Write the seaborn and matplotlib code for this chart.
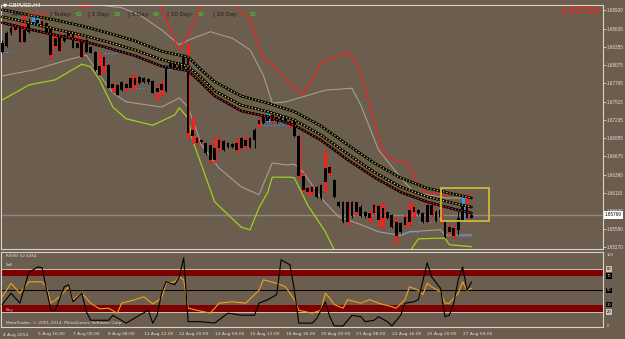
import matplotlib
matplotlib.use("Agg")
import matplotlib.pyplot as plt
import matplotlib.transforms as mtransforms
from matplotlib.patches import Rectangle
import numpy as np
import seaborn as sns

sns.set_style("dark")
plt.rcParams["font.family"] = ["DejaVu Sans"]

W, H = 625, 339
BG = "#6c5e4e"
FRAME = "#d9d2c8"
TXT = "#e4e0da"
SCALE_FONT = "Liberation Sans"

# ---------------------------------------------------------------
# GBPUSD H4 candles, bar 0 = first visible bar (4 Aug 2014)
# ---------------------------------------------------------------
opens = [1.6828, 1.6837, 1.6857, 1.6862, 1.6865, 1.6843, 1.6859, 1.6874, 1.6873, 1.6876,
         1.6873, 1.6863, 1.6837, 1.6854, 1.6845, 1.6853, 1.6857, 1.6834, 1.6846, 1.6828,
         1.6836, 1.6828, 1.6806, 1.6806, 1.6808, 1.6772, 1.6777, 1.6769, 1.6779, 1.6772,
         1.6788, 1.6780, 1.6788, 1.6782, 1.6783, 1.6766, 1.6769, 1.6768, 1.6803, 1.6811,
         1.6803, 1.6803, 1.6822, 1.6708, 1.6695, 1.6692, 1.6688, 1.6685, 1.6662, 1.6680,
         1.6691, 1.6682, 1.6686, 1.6677, 1.6680, 1.6692, 1.6682, 1.6692, 1.6717, 1.6719,
         1.6722, 1.6731, 1.6722, 1.6728, 1.6722, 1.6722, 1.6722, 1.6698, 1.6637, 1.6612,
         1.6620, 1.6620, 1.6603, 1.6628, 1.6651, 1.6631, 1.6597, 1.6597, 1.6566, 1.6597,
         1.6582, 1.6589, 1.6575, 1.6580, 1.6580, 1.6591, 1.6572, 1.6582, 1.6577, 1.6566,
         1.6551, 1.6562, 1.6566, 1.6582, 1.6585, 1.6580, 1.6566, 1.6592, 1.6582, 1.6574,
         1.6568, 1.6551, 1.6557, 1.6554, 1.6569, 1.6589, 1.6572]
highs = [1.6846, 1.6860, 1.6868, 1.6871, 1.6873, 1.6885, 1.6880, 1.6885, 1.6885, 1.6879,
         1.6874, 1.6865, 1.6854, 1.6857, 1.6856, 1.6862, 1.6859, 1.6857, 1.6849, 1.6849,
         1.6837, 1.6829, 1.6828, 1.6820, 1.6809, 1.6780, 1.6779, 1.6783, 1.6780, 1.6792,
         1.6792, 1.6791, 1.6789, 1.6788, 1.6785, 1.6777, 1.6783, 1.6806, 1.6816, 1.6812,
         1.6812, 1.6825, 1.6842, 1.6728, 1.6697, 1.6694, 1.6689, 1.6688, 1.6695, 1.6695,
         1.6692, 1.6689, 1.6688, 1.6695, 1.6697, 1.6697, 1.6697, 1.6711, 1.6726, 1.6729,
         1.6734, 1.6734, 1.6729, 1.6732, 1.6731, 1.6723, 1.6723, 1.6700, 1.6642, 1.6620,
         1.6622, 1.6622, 1.6625, 1.6675, 1.6652, 1.6632, 1.6598, 1.6598, 1.6598, 1.6598,
         1.6598, 1.6592, 1.6583, 1.6583, 1.6594, 1.6594, 1.6595, 1.6583, 1.6578, 1.6572,
         1.6566, 1.6577, 1.6597, 1.6592, 1.6586, 1.6582, 1.6594, 1.6594, 1.6585, 1.6592,
         1.6569, 1.6562, 1.6560, 1.6585, 1.6605, 1.6603, 1.6582]
lows = [1.6826, 1.6836, 1.6854, 1.6860, 1.6843, 1.6843, 1.6857, 1.6869, 1.6871, 1.6866,
        1.6859, 1.6819, 1.6834, 1.6829, 1.6843, 1.6849, 1.6834, 1.6834, 1.6820, 1.6826,
        1.6826, 1.6799, 1.6792, 1.6797, 1.6772, 1.6766, 1.6762, 1.6768, 1.6769, 1.6769,
        1.6772, 1.6779, 1.6780, 1.6779, 1.6765, 1.6754, 1.6762, 1.6766, 1.6800, 1.6802,
        1.6802, 1.6802, 1.6695, 1.6688, 1.6685, 1.6688, 1.6669, 1.6658, 1.6658, 1.6677,
        1.6675, 1.6680, 1.6680, 1.6674, 1.6678, 1.6680, 1.6680, 1.6680, 1.6711, 1.6717,
        1.6720, 1.6719, 1.6719, 1.6719, 1.6719, 1.6712, 1.6697, 1.6634, 1.6612, 1.6608,
        1.6609, 1.6603, 1.6600, 1.6612, 1.6638, 1.6603, 1.6589, 1.6565, 1.6562, 1.6572,
        1.6577, 1.6574, 1.6572, 1.6566, 1.6577, 1.6558, 1.6558, 1.6571, 1.6557, 1.6534,
        1.6549, 1.6558, 1.6562, 1.6574, 1.6577, 1.6565, 1.6565, 1.6575, 1.6566, 1.6565,
        1.6541, 1.6548, 1.6541, 1.6546, 1.6569, 1.6571, 1.6572]
closes = [1.6842, 1.6857, 1.6865, 1.6868, 1.6843, 1.6862, 1.6874, 1.6869, 1.6877, 1.6869,
          1.6859, 1.6823, 1.6849, 1.6829, 1.6854, 1.6860, 1.6834, 1.6842, 1.6820, 1.6846,
          1.6826, 1.6800, 1.6792, 1.6820, 1.6772, 1.6779, 1.6762, 1.6782, 1.6772, 1.6788,
          1.6777, 1.6789, 1.6782, 1.6786, 1.6765, 1.6772, 1.6779, 1.6805, 1.6811, 1.6803,
          1.6809, 1.6823, 1.6703, 1.6698, 1.6688, 1.6689, 1.6672, 1.6662, 1.6680, 1.6692,
          1.6677, 1.6688, 1.6682, 1.6688, 1.6695, 1.6683, 1.6695, 1.6708, 1.6723, 1.6728,
          1.6731, 1.6722, 1.6728, 1.6722, 1.6729, 1.6715, 1.6698, 1.6637, 1.6615, 1.6618,
          1.6612, 1.6605, 1.6623, 1.6649, 1.6642, 1.6605, 1.6591, 1.6566, 1.6597, 1.6575,
          1.6597, 1.6575, 1.6582, 1.6572, 1.6592, 1.6569, 1.6588, 1.6572, 1.6558, 1.6545,
          1.6565, 1.6574, 1.6585, 1.6589, 1.6580, 1.6566, 1.6592, 1.6577, 1.6568, 1.6585,
          1.6543, 1.6558, 1.6545, 1.6572, 1.6592, 1.6572, 1.6577]
red_marked = [3, 4, 5, 9, 11, 12, 13, 15, 17, 18, 22, 23, 25, 28, 29, 30, 35, 36, 42, 43,
              44, 47, 48, 49, 53, 54, 55, 58, 61, 65, 67, 68, 69, 70, 73, 74, 78, 80, 83,
              84, 85, 86, 89, 91, 92, 93, 96, 97, 99, 101, 102, 105]
blue_marked = [7, 8, 38, 60, 63, 104]
price_now = 1.65769

# three smoothed averages (upper / middle / lower), read every few bars
ma_bar = [0, 6, 12, 18, 24, 30, 36, 42, 45, 48, 54, 60, 66, 72, 78, 84, 90, 96, 102, 106]
ma_top = [1.6893, 1.6885, 1.6877, 1.6868, 1.6857, 1.6845, 1.6829, 1.6820, 1.6800, 1.6782,
          1.6760, 1.6749, 1.6736, 1.6714, 1.6685, 1.6657, 1.6634, 1.6618, 1.6609, 1.6603]
ma_mid = [1.6882, 1.6873, 1.6863, 1.6854, 1.6843, 1.6831, 1.6816, 1.6806, 1.6788, 1.6768,
          1.6746, 1.6736, 1.6723, 1.6700, 1.6671, 1.6643, 1.6620, 1.6605, 1.6595, 1.6589]
ma_bot = [1.6873, 1.6863, 1.6854, 1.6845, 1.6834, 1.6822, 1.6806, 1.6799, 1.6780, 1.6760,
          1.6737, 1.6728, 1.6715, 1.6692, 1.6662, 1.6635, 1.6612, 1.6597, 1.6586, 1.6580]

# outer bands
red_env_bar = [0, 6, 12, 15, 17, 19, 21, 23, 27, 31, 34, 36, 38, 40, 42, 44, 45, 46, 49, 52,
               56, 59, 61, 66, 68, 72, 75, 78, 80, 81, 84, 86, 88, 91, 92, 94, 96, 100, 106]
red_env = [1.6970, 1.6947, 1.6920, 1.6903, 1.6899, 1.6897, 1.6900, 1.6911, 1.6931, 1.6936,
           1.6916, 1.6896, 1.6862, 1.6831, 1.6854, 1.6885, 1.6900, 1.6920, 1.6926, 1.6905,
           1.6877, 1.6816, 1.6808, 1.6772, 1.6762, 1.6811, 1.6819, 1.6828, 1.6811, 1.6792,
           1.6723, 1.6674, 1.6662, 1.6659, 1.6652, 1.6623, 1.6611, 1.6608, 1.6608]
grey_up_bar = [8, 14, 18, 22, 27, 31, 36, 40, 42, 47, 52, 56, 59, 61, 64, 67, 73, 79, 81,
               85, 90, 93, 100, 106]
grey_up = [1.6965, 1.6939, 1.6916, 1.6900, 1.6896, 1.6885, 1.6862, 1.6839, 1.6846, 1.6859,
           1.6849, 1.6831, 1.6792, 1.6749, 1.6751, 1.6757, 1.6769, 1.6772, 1.6746, 1.6677,
           1.6634, 1.6612, 1.6603, 1.6603]
grey_lo_bar = [0, 7, 15, 19, 22, 25, 28, 36, 40, 42, 45, 49, 54, 58, 61, 64, 66, 68, 72, 76,
               81, 85, 90, 92, 99, 100, 106]
grey_lo = [1.6791, 1.6800, 1.6816, 1.6823, 1.6792, 1.6765, 1.6751, 1.6743, 1.6757, 1.6743,
           1.6685, 1.6649, 1.6620, 1.6608, 1.6657, 1.6654, 1.6655, 1.6643, 1.6603, 1.6574,
           1.6562, 1.6551, 1.6545, 1.6551, 1.6554, 1.6546, 1.6546]
green_bar = [0, 4, 6, 12, 15, 18, 20, 22, 25, 28, 34, 39, 40, 42, 43, 45, 48, 54, 56, 58,
             60, 61, 65, 66, 69, 73, 75, 80, 86, 92, 94, 98, 100, 101, 106]
green = [1.6754, 1.6769, 1.6777, 1.6785, 1.6797, 1.6809, 1.6805, 1.6785, 1.6743, 1.6725,
         1.6715, 1.6731, 1.6742, 1.6726, 1.6692, 1.6654, 1.6597, 1.6558, 1.6554, 1.6588,
         1.6612, 1.6635, 1.6635, 1.6634, 1.6592, 1.6551, 1.6523, 1.6505, 1.6505, 1.6520,
         1.6540, 1.6541, 1.6541, 1.6531, 1.6528]

# blue fractal levels
frac_price = [1.6828, 1.6826, 1.6772, 1.6803, 1.6715, 1.6551, 1.6566, 1.6545]
frac_from = [0, 22, 29, 41, 58, 90, 94, 103]
frac_to = [2, 26, 32, 44, 64, 94, 97, 106]

# yellow box drawn on the chart
box_bars = (99, 110)
box_prices = (1.6568, 1.6618)

price_ticks = [1.68920, 1.68635, 1.68355, 1.68075, 1.67795, 1.67515, 1.67235,
               1.66955, 1.66675, 1.66390, 1.66110, 1.65830, 1.65550, 1.65270]

# oscillator window
ora_bar = [0, 2, 4, 6, 9, 10, 11, 13, 15, 16, 18, 20, 22, 24, 26, 27, 30, 32, 34, 36, 37, 39,
           40, 41, 42, 44, 47, 49, 52, 55, 58, 59, 62, 64, 66, 67, 70, 72, 73, 74, 75, 77,
           78, 81, 83, 85, 88, 89, 91, 92, 94, 95, 96, 97, 99, 100, 101, 103, 104, 105, 106]
ora_val = [41, 60, 46, 62, 62, 55, 32, 41, 55, 37, 46, 32, 24, 25, 18, 32, 37, 41, 31, 39,
           60, 62, 69, 65, 25, 22, 18, 32, 34, 32, 50, 65, 60, 55, 37, 22, 18, 22, 46, 39,
           30, 25, 37, 32, 37, 32, 27, 25, 37, 55, 50, 44, 60, 55, 48, 32, 32, 46, 62, 50, 53]
blk_bar = [0, 2, 4, 6, 8, 9, 11, 12, 14, 15, 16, 18, 19, 20, 24, 25, 28, 31, 33, 34, 35, 36,
           37, 39, 40, 41, 42, 45, 48, 51, 54, 57, 58, 60, 62, 63, 65, 66, 67, 70, 71, 73,
           74, 75, 77, 79, 81, 82, 84, 85, 87, 88, 90, 91, 93, 94, 96, 97, 99, 100, 101,
           102, 103, 104, 105, 106]
blk_val = [30, 46, 32, 75, 83, 82, 22, 22, 55, 58, 34, 46, 20, 8, 8, 15, 4, 15, 22, 4, 15,
           46, 62, 58, 69, 96, 6, 6, 4, 18, 15, 15, 32, 37, 44, 93, 86, 50, 4, 4, 10, 34,
           13, 0, 0, 15, 13, 6, 8, 13, 6, 0, 15, 32, 34, 37, 89, 69, 53, 13, 15, 32, 65,
           83, 50, 62]

date_ticks = [8, 16, 24, 32, 40, 48, 56, 64, 72, 80, 88, 96, 104]
date_labels = ["5 Aug 16:00", "7 Aug 00:00", "8 Aug 08:00", "11 Aug 12:00", "12 Aug 20:00",
               "14 Aug 04:00", "15 Aug 12:00", "18 Aug 16:00", "20 Aug 00:00",
               "21 Aug 08:00", "22 Aug 16:00", "25 Aug 20:00", "27 Aug 04:00"]


def fxy(x, y):
    return x / W, 1 - y / H


fig = plt.figure(figsize=(W / 100, H / 100), dpi=100, facecolor=BG)
ax = fig.add_axes([1.5 / W, 1 - 249 / H, 601.5 / W, 244 / H])
ax2 = fig.add_axes([1.5 / W, 1 - 327 / H, 601.5 / W, 75 / H], sharex=ax)

for a in (ax, ax2):
    a.set_facecolor(BG)
    a.grid(False)
    for sp in a.spines.values():
        sp.set_color(FRAME)
        sp.set_linewidth(0.8)

# ---- price panel
ax.axhline(price_now, color="#8e8880", lw=1.0, zorder=1)

sns.lineplot(x=grey_up_bar, y=grey_up, ax=ax, color="#a59d92", lw=0.8, zorder=2)
sns.lineplot(x=grey_lo_bar, y=grey_lo, ax=ax, color="#a59d92", lw=0.8, zorder=2)
sns.lineplot(x=red_env_bar, y=red_env, ax=ax, color="#ff1a1a", lw=0.8, zorder=2)
sns.lineplot(x=green_bar, y=green, ax=ax, color="#9ad21e", lw=0.9, zorder=2)

ax.hlines(frac_price, frac_from, frac_to, color="#2b8cff", lw=0.9,
          linestyles=(0, (1.5, 1.5)), zorder=3)

x = np.arange(len(opens))
o = np.array(opens)
c = np.array(closes)
hi = np.array(highs)
lo = np.array(lows)
ax.vlines(x, lo, hi, color="black", lw=0.7, zorder=4)
ax.vlines(x[red_marked], lo[red_marked], hi[red_marked], color="#ff1c1c", lw=2.1, zorder=4)
ax.vlines(x[blue_marked], lo[blue_marked], hi[blue_marked], color="#2a9bff", lw=2.1, zorder=4)
ax.bar(x, np.maximum(np.abs(c - o), 0.00008), bottom=np.minimum(o, c), width=0.62,
       color="black", lw=0, zorder=5)

for vals, col in [(ma_top, "#b9d631"), (ma_mid, "#f2e22a"), (ma_bot, "#ff3030")]:
    sns.lineplot(x=ma_bar, y=vals, ax=ax, color="black", lw=1.9, zorder=6)
    ax.plot(ma_bar, vals, color=col, lw=0.9, ls=(0, (1, 1.6)), zorder=7)

ax.add_patch(Rectangle((box_bars[0], box_prices[0]), box_bars[1] - box_bars[0],
                       box_prices[1] - box_prices[0], fill=False, edgecolor="#cdb83a",
                       lw=1.3, zorder=8))

ax.set_xlim(-0.15, 135.7)
ax.set_ylim(1.65244, 1.69002)
ax.yaxis.tick_right()
ax.set_yticks(price_ticks)
ax.set_yticklabels([f"{v:.5f}" for v in price_ticks], family=SCALE_FONT)
ax.tick_params(axis="y", colors=FRAME, labelcolor=TXT, labelsize=3.3, length=2.0,
               width=0.6, pad=0.8)
ax.tick_params(axis="x", bottom=False, labelbottom=False)
ax.set_xlabel("")
ax.set_ylabel("")

blend = mtransforms.blended_transform_factory(ax.transAxes, ax.transData)
ax.text(1.003, price_now, f"{price_now:.5f}", transform=blend, fontsize=3.3,
        family=SCALE_FONT, color="black", va="center", ha="left",
        bbox=dict(boxstyle="square,pad=0.25", fc="white", ec="none"), zorder=10)

# ---- oscillator panel
ax2.axhspan(70, 80, color="#7e0000", lw=0, zorder=1)
ax2.axhspan(20, 30, color="#7e0000", lw=0, zorder=1)
ax2.axhline(80, color="#c9c2b8", lw=0.7, zorder=2)
ax2.axhline(20, color="#c9c2b8", lw=0.7, zorder=2)
ax2.axhline(50, color="black", lw=0.7, zorder=2)
sns.lineplot(x=ora_bar, y=ora_val, ax=ax2, color="#f0a020", lw=0.8, zorder=3)
sns.lineplot(x=blk_bar, y=blk_val, ax=ax2, color="black", lw=0.8, zorder=4)
ax2.set_ylim(-1.5, 104)
ax2.set_yticks([])
ax2.set_ylabel("")
ax2.set_xticks(date_ticks)
ax2.set_xticklabels(date_labels)
for lbl in ax2.get_xticklabels():
    lbl.set_horizontalalignment("left")
ax2.tick_params(axis="x", colors=FRAME, labelcolor=TXT, labelsize=3.2, length=2.5,
                width=0.6, pad=1.0)
ax2.text(0.2, -10, "4 Aug 2014", fontsize=3.2, color=TXT, ha="left", va="top")

blend2 = mtransforms.blended_transform_factory(ax2.transAxes, ax2.transData)
for lvl, txt, fc, tc in [(100, "100", None, TXT), (80, "80", "#c9c2b8", "black"),
                         (70, "70", "black", TXT), (50, "50", "black", TXT),
                         (30, "30", "black", TXT), (20, "20", "#c9c2b8", "black"),
                         (0, "0", None, TXT)]:
    kw = {}
    if fc:
        kw["bbox"] = dict(boxstyle="square,pad=0.2", fc=fc, ec="none")
    ax2.text(1.006, lvl, txt, transform=blend2, fontsize=3.0, family=SCALE_FONT,
             color=tc, va="center", ha="left", **kw)

ax2.text(0.8, 98, "RSI(8) 52.6454", fontsize=3.0, color=TXT, va="center")
ax2.text(0.8, 86, "Sell", fontsize=3.0, color=TXT, va="center")
ax2.text(0.8, 22, "Buy", fontsize=3.0, color="#f0b8b8", va="center")
ax2.text(0.8, 4, "MetaTrader, \u00a9 2001-2014, MetaQuotes Software Corp.", fontsize=3.1,
         color=TXT, va="center")

# ---- header texts
fig.text(*fxy(3, 5), "\u25bc GBPUSD,H4", fontsize=3.9, color="white", va="center")
dark = "#1e1a16"
lime = "#3ddc2a"
for px, txt, col in [(12, "ATR:", dark), (27, "118.0%", "#ff2020"),
                     (50, "| Today:", dark), (76, "62", lime), (88, "| 1 Day:", dark),
                     (114, "58", lime), (128, "| 5 Day:", dark), (153, "40", lime),
                     (167, "| 10 Day:", dark), (198, "50", lime), (213, "| 20 Day:", dark),
                     (250, "55", lime)]:
    fig.text(*fxy(px, 14.5), txt, fontsize=4.1, color=col, va="center")
fig.text(*fxy(560, 11), "1.65769", fontsize=7.8, color="#ff1a1a", va="center",
         family="Liberation Sans")

fig.savefig("out.png", dpi=100, facecolor=BG)
